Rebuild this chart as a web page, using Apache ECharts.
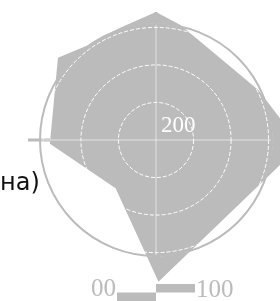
<!DOCTYPE html>
<html>
<head>
<meta charset="utf-8">
<script src="https://cdn.jsdelivr.net/npm/echarts@6/dist/echarts.min.js"></script>
<style>
  html, body { margin: 0; padding: 0; background: #fff; }
  #chart { width: 280px; height: 301px; }
</style>
</head>
<body>
<div id="chart"></div>
<script>
// polygon vertices: angle (deg, counter-clockwise from east) and radius value
var angles = [26, 78, 90, 108, 126, 140, 182, 230, 271, 358, 386];
var radii  = [297, 307, 334, 307, 305, 334, 277, 164, 370, 378, 297];

// small bars below the polar chart
var barCats   = ['a', 'b'];
var barValues = [-39, 39];
var barLabels = ['00', '100'];

var grey = '#bbbbbb';

var myChart = echarts.init(document.getElementById('chart'));

var polyData = [];
for (var i = 0; i < angles.length; i++) {
  polyData.push([radii[i], angles[i]]);
}

var option = {
  animation: false,
  title: [
    {
      text: 'на)',
      left: 0,
      top: 172,
      padding: 0,
      textStyle: { fontFamily: 'DejaVu Sans', fontSize: 24, fontWeight: 'normal', color: '#111' }
    },
    {
      text: '200',
      left: 161,
      top: 114,
      padding: 0,
      z: 10,
      textStyle: { fontFamily: 'Liberation Serif', fontSize: 23, fontWeight: 'normal', color: '#fff' }
    }
  ],
  polar: [
    { center: [156, 140], radius: 128 },
    { center: [156, 140], radius: 116 },
    { center: [156, 140], radius: 161 }
  ],
  angleAxis: [
    {
      polarIndex: 0,
      type: 'value', min: 0, max: 360, interval: 90,
      startAngle: 0, clockwise: false,
      z: 0,
      axisLine: { show: false },
      axisTick: { show: true, inside: true, length: 22, lineStyle: { color: grey, width: 3 } },
      axisLabel: { show: false },
      splitLine: { show: false }
    },
    {
      polarIndex: 1,
      type: 'value', min: 0, max: 360, interval: 90,
      startAngle: 0, clockwise: false,
      z: 5,
      axisLine: { show: true, lineStyle: { color: grey, width: 2 } },
      axisTick: { show: false },
      axisLabel: { show: false },
      splitLine: { show: true, lineStyle: { color: 'rgba(255,255,255,0.6)', width: 1 } }
    },
    {
      polarIndex: 2,
      type: 'value', min: 0, max: 360,
      startAngle: 0, clockwise: false,
      show: false
    }
  ],
  radiusAxis: [
    { polarIndex: 0, type: 'value', min: 0, max: 300, show: false },
    {
      polarIndex: 1,
      type: 'value', min: 0, max: 309, interval: 100,
      z: 5,
      axisLine: { show: false },
      axisTick: { show: false },
      axisLabel: { show: false },
      splitLine: { show: true, lineStyle: { color: '#fff', type: 'dashed', width: 1 } }
    },
    { polarIndex: 2, type: 'value', min: 0, max: 420, show: false }
  ],
  grid: { left: 56, right: 24, top: 284, height: 20 },
  xAxis: { type: 'value', min: -100, max: 100, show: false },
  yAxis: { type: 'category', data: barCats, show: false },
  series: [
    {
      type: 'line',
      coordinateSystem: 'polar',
      polarIndex: 2,
      z: 2,
      showSymbol: false,
      symbol: 'none',
      clip: false,
      lineStyle: { width: 0 },
      areaStyle: { color: grey, opacity: 1 },
      data: polyData
    },
    {
      type: 'bar',
      barWidth: '100%',
      itemStyle: { color: grey },
      label: {
        show: true,
        fontFamily: 'Liberation Serif',
        fontSize: 25,
        color: grey,
        distance: 1,
        formatter: function (p) { return barLabels[p.dataIndex]; }
      },
      data: [
        { value: barValues[0], label: { position: 'left', offset: [0, -7] } },
        { value: barValues[1], label: { position: 'right', offset: [0, 2] } }
      ]
    }
  ]
};

myChart.setOption(option);
</script>
</body>
</html>
